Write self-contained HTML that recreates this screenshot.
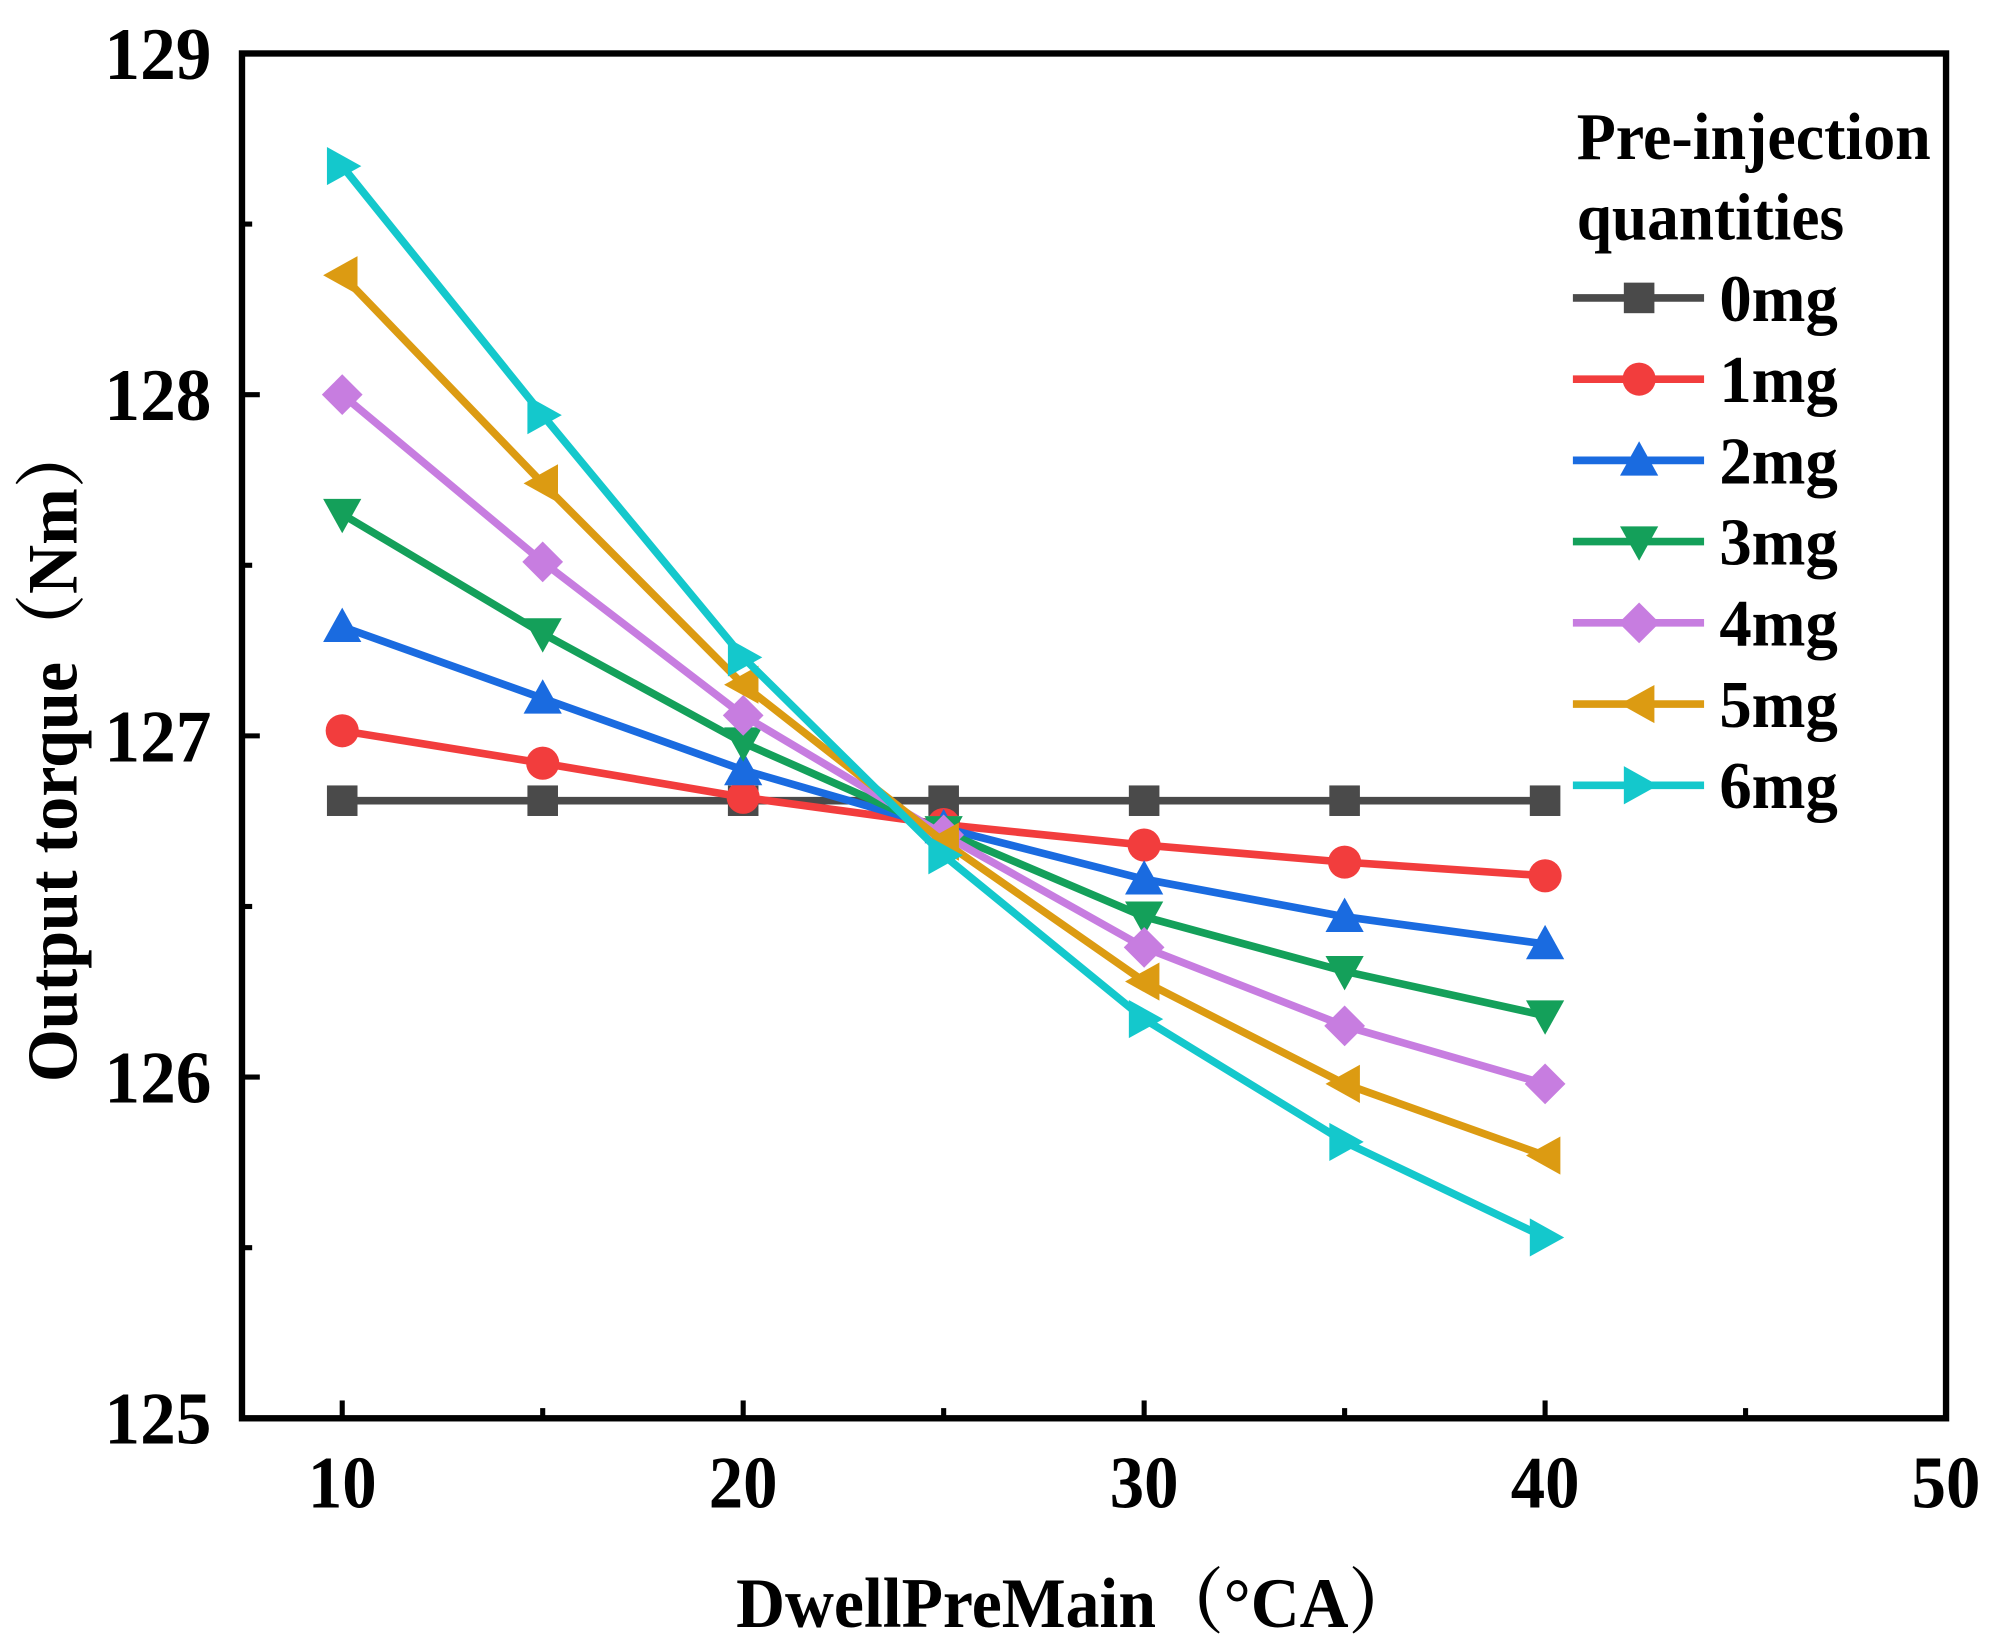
<!DOCTYPE html>
<html><head><meta charset="utf-8"><style>
html,body{margin:0;padding:0;background:#fff}
svg{display:block}
text{font-family:"Liberation Serif","Noto Serif CJK SC",serif;font-weight:bold;fill:#000}
</style></head><body>
<svg id="chart" width="1997" height="1650" viewBox="0 0 1568 1296" preserveAspectRatio="none" xmlns="http://www.w3.org/2000/svg">
<g id="axes"></g><g id="series"></g><g id="legend"></g>
</svg>
<script>
const xValues=[10,15,20,25,30,35,40];
const s0=[126.81,126.81,126.81,126.81,126.81,126.81,126.81];
const s1=[127.015,126.92,126.82,126.74,126.68,126.63,126.59];
const s2=[127.32,127.11,126.90,126.73,126.58,126.47,126.39];
const s3=[127.65,127.30,126.98,126.72,126.47,126.31,126.18];
const s4=[128.0,127.51,127.06,126.71,126.38,126.15,125.98];
const s5=[128.35,127.74,127.15,126.69,126.28,125.98,125.77];
const s6=[128.67,127.94,127.23,126.65,126.17,125.81,125.53];
const seriesNames=["0mg","1mg","2mg","3mg","4mg","5mg","6mg"];
const xTicks=[10,20,30,40,50];
const yTicks=[125,126,127,128,129];
const colors=["#4a4a4a","#f23d3d","#1a6be0","#14a05a","#c77de0","#dc9b12","#14c8cc"];
const markers=["square","circle","up","down","diamond","left","right"];
const allSeries=[s0,s1,s2,s3,s4,s5,s6];

const L=190,R=1528,T=42,B=1114,xMin=7.5,xMax=50,yMin=125,yMax=129;
const X=v=>L+(v-xMin)/(xMax-xMin)*(R-L);
const Y=v=>B-(v-yMin)/(yMax-yMin)*(B-T);
const NS="http://www.w3.org/2000/svg";
function mk(tag,attrs,parent){const e=document.createElementNS(NS,tag);for(const k in attrs)e.setAttribute(k,attrs[k]);parent.appendChild(e);return e;}
const axes=document.getElementById('axes'),ser=document.getElementById('series'),leg=document.getElementById('legend');

let frame=mk('rect',{x:L,y:T,width:R-L,height:B-T,fill:'none',stroke:'#000','stroke-width':5},axes);


for(let v=10;v<=45;v+=5){
  const major=v%10===0;
  let t=mk('line',{x1:X(v),x2:X(v),y1:B,y2:B-(major?14:8),stroke:'#000','stroke-width':4},axes);
  
  
}
xTicks.forEach(v=>{
  let t=mk('text',{x:X(v),y:B+70,'font-size':58,'text-anchor':'middle',textLength:54,lengthAdjust:'spacingAndGlyphs'},axes);t.textContent=v;
  
  
});
for(let v=125;v<=129;v+=0.5){
  const major=Math.abs(v-Math.round(v))<1e-6;
  let t=mk('line',{x1:L,x2:L+(major?14:8),y1:Y(v),y2:Y(v),stroke:'#000','stroke-width':4},axes);
  
  
}
yTicks.forEach(v=>{
  let t=mk('text',{x:L-24,y:Y(v)+20,'font-size':58,'text-anchor':'end',textLength:84,lengthAdjust:'spacingAndGlyphs'},axes);t.textContent=v;
  
  
});
let xt=mk('text',{x:845,y:1278,'font-size':56,'text-anchor':'middle',textLength:534,lengthAdjust:'spacingAndGlyphs'},axes);xt.textContent='DwellPreMain（°CA）';


let yt=mk('text',{x:0,y:0,'font-size':56,'text-anchor':'middle',transform:'translate(60,590) rotate(-90)',textLength:520,lengthAdjust:'spacingAndGlyphs'},axes);yt.textContent='Output torque（Nm）';



function marker(type,cx,cy,color,parent){
  const s=12;let p;
  if(type==='square')p=mk('rect',{x:cx-s,y:cy-s,width:2*s,height:2*s,fill:color},parent);
  else if(type==='circle')p=mk('circle',{cx:cx,cy:cy,r:s+1,fill:color},parent);
  else{
    let pts;
    if(type==='up')pts=[[cx,cy-s-3],[cx+s+3,cy+s],[cx-s-3,cy+s]];
    else if(type==='down')pts=[[cx,cy+s+3],[cx+s+3,cy-s],[cx-s-3,cy-s]];
    else if(type==='left')pts=[[cx-s-3,cy],[cx+s,cy-s-3],[cx+s,cy+s+3]];
    else if(type==='right')pts=[[cx+s+3,cy],[cx-s,cy-s-3],[cx-s,cy+s+3]];
    else pts=[[cx,cy-s-4],[cx+s+4,cy],[cx,cy+s+4],[cx-s-4,cy]];
    p=mk('polygon',{points:pts.map(q=>q.join(',')).join(' '),fill:color},parent);
  }
  return p;
}
allSeries.forEach((data,i)=>{
  const g=mk('g',{},ser);
  
  
  let line=mk('polyline',{points:data.map((v,j)=>X(xValues[j])+','+Y(v)).join(' '),fill:'none',stroke:colors[i],'stroke-width':6,'stroke-linejoin':'round'},g);
  
  
  data.forEach((v,j)=>{
    const m=marker(markers[i],X(xValues[j]),Y(v),colors[i],g);
    
    
  });
});
let lt1=mk('text',{x:1238,y:125,'font-size':52,textLength:278,lengthAdjust:'spacingAndGlyphs'},leg);lt1.textContent='Pre-injection';


let lt2=mk('text',{x:1238,y:188,'font-size':52,textLength:210,lengthAdjust:'spacingAndGlyphs'},leg);lt2.textContent='quantities';


seriesNames.forEach((n,i)=>{
  const y=234+i*63.8;
  const g=mk('g',{},leg);
  
  
  mk('line',{x1:1235,x2:1338,y1:y,y2:y,stroke:colors[i],'stroke-width':6},g);
  marker(markers[i],1287,y,colors[i],g);
  const t=mk('text',{x:1350,y:y+18,'font-size':52,textLength:93,lengthAdjust:'spacingAndGlyphs'},g);t.textContent=n;
});
</script>
</body></html>
